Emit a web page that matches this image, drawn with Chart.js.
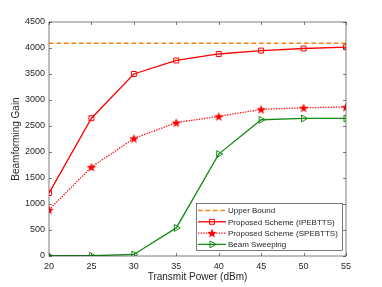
<!DOCTYPE html>
<html>
<head>
<meta charset="utf-8">
<script src="https://cdn.jsdelivr.net/npm/chart.js@4"></script>
<style>
  html, body { margin: 0; padding: 0; background: #fff; }
  #wrap { width: 382px; height: 287px; }
</style>
</head>
<body>
<div id="wrap"><canvas id="chart" width="382" height="287"></canvas></div>
<script>
const powers = [20, 25, 30, 35, 40, 45, 50, 55];
const upperBound = [4090, 4090, 4090, 4090, 4090, 4090, 4090, 4090];
const ipebtts = [1210, 2650, 3500, 3760, 3885, 3950, 3990, 4015];
const spebtts = [890, 1710, 2260, 2565, 2685, 2820, 2850, 2865];
const beamSweeping = [5, 5, 30, 540, 1960, 2620, 2645, 2645];
const xTicks = [20, 25, 30, 35, 40, 45, 50, 55];
const yTicks = [0, 500, 1000, 1500, 2000, 2500, 3000, 3500, 4000, 4500];

const FONT = '"Liberation Sans", Arial, Helvetica, sans-serif';
const AXIS_COLOR = '#262626';

// filled five-point star marker
function makeStar(r, color) {
    const c = document.createElement('canvas');
    const s = Math.ceil(r * 2 + 2);
    c.width = s; c.height = s;
    const g = c.getContext('2d');
    g.fillStyle = color;
    g.beginPath();
    for (let i = 0; i < 10; i++) {
        const rad = i % 2 === 0 ? r : r * 0.42;
        const a = -Math.PI / 2 + i * Math.PI / 5;
        const x = s / 2 + rad * Math.cos(a), y = s / 2 + rad * Math.sin(a) + 0.5;
        i === 0 ? g.moveTo(x, y) : g.lineTo(x, y);
    }
    g.closePath();
    g.fill();
    return c;
}
const starImg = makeStar(5, '#ff0000');

const pts = arr => arr.map((v, i) => ({ x: powers[i], y: v }));

// axes box, inward ticks and legend inside the plot (MATLAB look)
const frame = {
    id: 'frame',
    afterDatasetsDraw(chart) {
        const { ctx, chartArea: a, scales } = chart;
        ctx.save();
        ctx.strokeStyle = AXIS_COLOR;
        ctx.lineWidth = 0.6;
        ctx.strokeRect(a.left, a.top, a.right - a.left, a.bottom - a.top);
        ctx.beginPath();
        xTicks.forEach(t => {
            const x = Math.round(scales.x.getPixelForValue(t)) + 0.5;
            ctx.moveTo(x, a.bottom); ctx.lineTo(x, a.bottom - 3);
            ctx.moveTo(x, a.top); ctx.lineTo(x, a.top + 3);
        });
        yTicks.forEach(t => {
            const y = Math.round(scales.y.getPixelForValue(t)) + 0.5;
            ctx.moveTo(a.left, y); ctx.lineTo(a.left + 3, y);
            ctx.moveTo(a.right, y); ctx.lineTo(a.right - 3, y);
        });
        ctx.stroke();

        // legend
        const bx = 196, by = 203, bw = 146, bh = 47;
        ctx.fillStyle = '#fff';
        ctx.fillRect(bx, by, bw, bh);
        ctx.strokeRect(bx + 0.5, by + 0.5, bw, bh);
        ctx.font = '8px ' + FONT;
        ctx.textBaseline = 'middle';
        chart.data.datasets.forEach((ds, i) => {
            const y = by + 7.5 + i * 11.3;
            ctx.strokeStyle = ds.borderColor;
            ctx.lineWidth = ds.borderWidth;
            ctx.setLineDash(ds.borderDash || []);
            ctx.beginPath();
            ctx.moveTo(bx + 2, y); ctx.lineTo(bx + 30, y);
            ctx.stroke();
            ctx.setLineDash([]);
            if (ds.pointRadius > 0) {
                ctx.fillStyle = 'rgba(0,0,0,0)';
                ctx.lineWidth = 1;
                Chart.helpers.drawPoint(ctx, {
                    pointStyle: ds.pointStyle, radius: ds.pointRadius,
                    rotation: ds.pointRotation || 0, borderWidth: 1
                }, bx + 16, y);
            }
            ctx.fillStyle = AXIS_COLOR;
            ctx.fillText(ds.label, bx + 32, y + 0.5);
        });
        ctx.restore();
    }
};

new Chart(document.getElementById('chart'), {
    type: 'line',
    data: {
        datasets: [
            {
                label: 'Upper Bound',
                data: pts(upperBound),
                borderColor: '#ff7f0e',
                borderWidth: 1.5,
                borderDash: [4.5, 3],
                pointRadius: 0
            },
            {
                label: 'Proposed Scheme (IPEBTTS)',
                data: pts(ipebtts),
                borderColor: '#ff0000',
                backgroundColor: 'rgba(0,0,0,0)',
                borderWidth: 1.3,
                pointStyle: 'rect',
                pointRadius: 3.5,
                pointBorderWidth: 1
            },
            {
                label: 'Proposed Scheme (SPEBTTS)',
                data: pts(spebtts),
                borderColor: '#ff0000',
                borderWidth: 1.3,
                borderDash: [1.3, 1.3],
                pointStyle: starImg,
                pointRadius: 5
            },
            {
                label: 'Beam Sweeping',
                data: pts(beamSweeping),
                borderColor: '#148c14',
                backgroundColor: 'rgba(0,0,0,0)',
                borderWidth: 1.3,
                pointStyle: 'triangle',
                pointRotation: 90,
                pointRadius: 4,
                pointBorderWidth: 1
            }
        ]
    },
    options: {
        responsive: false,
        animation: false,
        events: [],
        layout: { padding: { top: 22, right: 36, left: 10, bottom: 0 } },
        plugins: { legend: { display: false }, tooltip: { enabled: false } },
        scales: {
            x: {
                type: 'linear',
                min: 20, max: 55,
                grid: { display: false, drawTicks: false, tickLength: 0 },
                border: { display: false },
                afterBuildTicks: s => { s.ticks = xTicks.map(v => ({ value: v })); },
                afterFit: s => { s.height = 31; },
                ticks: { color: AXIS_COLOR, font: { family: FONT, size: 9 }, padding: 5, maxRotation: 0 },
                title: { display: true, text: 'Transmit Power (dBm)', color: AXIS_COLOR, font: { family: FONT, size: 10 }, padding: { top: 0, bottom: 4 } }
            },
            y: {
                min: 0, max: 4500,
                grid: { display: false, drawTicks: false, tickLength: 0 },
                border: { display: false },
                afterBuildTicks: s => { s.ticks = yTicks.map(v => ({ value: v })); },
                afterFit: s => { s.width = 39; },
                ticks: { color: AXIS_COLOR, font: { family: FONT, size: 9 }, padding: 4, callback: v => String(v) },
                title: { display: true, text: 'Beamforming Gain', color: AXIS_COLOR, font: { family: FONT, size: 10 }, padding: { top: 0, bottom: 0 } }
            }
        }
    },
    plugins: [frame]
});
</script>
</body>
</html>
